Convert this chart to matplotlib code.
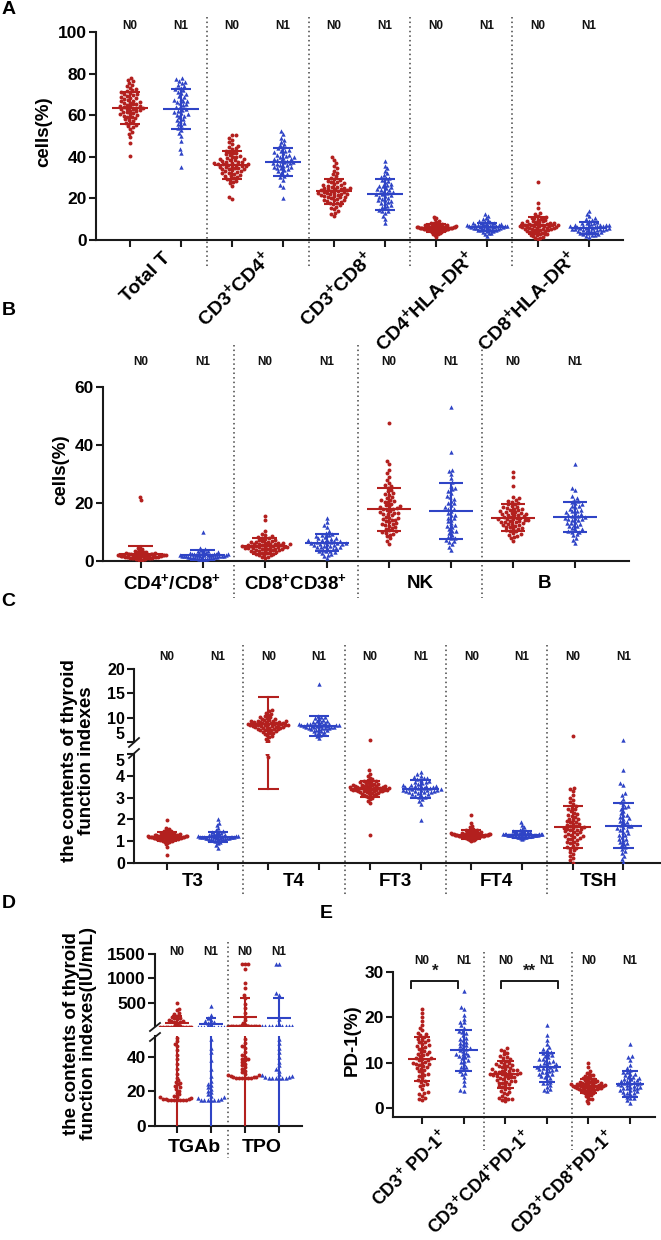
import numpy as np
import matplotlib
matplotlib.use("Agg")
import matplotlib.pyplot as plt
from matplotlib import transforms

plt.rcParams['font.family'] = ['Liberation Sans', 'DejaVu Sans']
plt.rcParams['font.weight'] = 'bold'
plt.rcParams['mathtext.fontset'] = 'custom'
plt.rcParams['mathtext.rm'] = 'Liberation Sans:bold'
plt.rcParams['mathtext.it'] = 'Liberation Sans:bold'
plt.rcParams['mathtext.bf'] = 'Liberation Sans:bold'
plt.rcParams['mathtext.default'] = 'rm'

# ---------------- DATA ----------------
group_names = ['N0', 'N1']

# Panel A
cat_A = ['Total T', 'CD3$^{+}$CD4$^{+}$', 'CD3$^{+}$CD8$^{+}$', 'CD4$^{+}$HLA-DR$^{+}$', 'CD8$^{+}$HLA-DR$^{+}$']
tt0 = [40.5,46.8,49.6,51.2,52.0,53.4,54.1,54.9,55.3,56.2,56.4,57.1,57.8,58.0,58.5,58.9,59.3,59.8,60.1,60.4,60.6,61.0,61.3,61.7,61.9,62.2,62.5,62.8,63.0,63.1,63.4,63.7,63.9,64.2,64.4,64.6,64.9,65.2,65.5,65.8,66.1,66.3,66.7,67.0,67.4,67.8,68.1,68.5,68.9,69.3,69.6,70.0,70.2,70.7,71.1,71.5,72.0,72.6,73.3,74.0,74.6,75.4,76.3,77.0,78.1]
tt1 = [35.2,42.0,43.6,47.8,50.1,51.5,52.9,54.0,55.2,55.8,56.4,57.0,57.6,58.3,59.1,59.8,60.5,61.0,61.4,62.0,62.6,63.2,63.8,64.1,64.7,65.3,65.9,66.4,67.0,67.5,68.0,68.8,69.4,70.1,70.6,71.2,72.0,72.4,73.1,73.8,74.5,75.3,76.0,76.6,77.2,77.9,60.2,66.8]
cd4_0 = [19.8,20.9,26.0,27.3,28.4,29.0,29.8,30.3,30.9,31.4,31.8,32.3,32.7,33.1,33.5,33.9,34.2,34.5,34.8,35.1,35.4,35.7,36.0,36.2,36.5,36.8,37.1,37.4,37.7,38.0,38.3,38.6,39.0,39.4,39.8,40.2,40.7,41.2,41.8,42.4,43.0,43.7,44.5,45.3,46.2,47.1,48.0,49.2,50.3,50.6,33.0,35.0,36.3,37.5,34.0,38.8,31.0,29.5,40.0,42.0,44.0,36.6,35.3,32.0,27.8]
cd4_1 = [20.1,25.3,26.4,29.0,30.2,31.0,31.7,32.4,33.0,33.6,34.1,34.7,35.2,35.6,36.0,36.5,36.9,37.3,37.7,38.1,38.5,38.9,39.3,39.7,40.1,40.6,41.1,41.6,42.2,42.8,43.4,44.0,44.7,45.5,46.3,47.2,48.1,49.0,51.2,52.6,37.0,38.0,35.0,39.0,41.0,34.4,43.0,36.2]
cd8_0 = [11.3,12.4,13.1,14.0,14.8,15.5,16.1,16.6,17.2,17.7,18.2,18.6,19.0,19.4,19.8,20.2,20.5,20.9,21.2,21.5,21.9,22.2,22.5,22.8,23.1,23.4,23.7,24.0,24.3,24.6,24.9,25.2,25.6,26.0,26.4,26.8,27.2,27.7,28.2,28.7,29.3,30.0,30.7,31.5,32.4,33.4,34.5,35.5,36.8,38.4,39.7,22.0,23.0,24.5,21.0,25.5,19.2,20.7,23.9,26.5,18.0,27.9,22.6,24.8,21.7]
cd8_1 = [8.4,10.3,11.7,12.9,13.8,14.5,15.2,15.9,16.5,17.0,17.6,18.2,18.8,19.3,19.9,20.4,20.9,21.4,21.9,22.4,22.9,23.4,23.9,24.4,24.9,25.4,25.9,26.5,27.1,27.7,28.3,29.0,29.7,30.5,31.3,32.2,33.3,34.4,35.6,37.9,14.0,22.1,26.0,19.0,30.0,24.0,17.9,21.1]
hla4_0 = [1.6,2.3,2.8,3.1,3.4,3.7,3.9,4.1,4.3,4.5,4.6,4.8,4.9,5.0,5.1,5.2,5.3,5.4,5.5,5.6,5.7,5.8,5.9,6.0,6.1,6.2,6.3,6.4,6.5,6.6,6.7,6.8,6.9,7.0,7.2,7.4,7.6,7.8,8.1,8.4,8.8,9.3,9.9,10.6,11.2,5.25,5.45,5.65,5.85,6.05,6.25,4.45,4.7,6.45,6.85,7.1,3.5,7.5,5.75,5.35,6.15,4.95,6.55,5.55,3.05]
hla4_1 = [2.1,2.9,3.4,3.8,4.1,4.4,4.6,4.9,5.1,5.3,5.5,5.7,5.9,6.0,6.2,6.3,6.5,6.6,6.8,6.9,7.1,7.2,7.4,7.6,7.8,8.0,8.2,8.5,8.8,9.1,9.5,10.0,10.8,11.6,12.4,5.6,6.1,6.7,7.0,5.0,7.3,4.8,6.4,5.8,7.7,3.6,8.3,6.9]
hla8_0 = [0.5,1.0,1.5,2.0,2.4,2.8,3.1,3.4,3.7,4.0,4.2,4.5,4.7,5.0,5.2,5.4,5.6,5.8,6.0,6.2,6.4,6.6,6.8,7.0,7.2,7.4,7.6,7.8,8.0,8.3,8.6,8.9,9.2,9.5,9.8,10.1,10.4,10.8,11.2,11.7,12.3,13.0,15.2,17.8,28.0,5.5,6.5,7.3,4.4,8.1,3.0,9.0,6.1,5.1,7.9,2.2,10.6,6.7,4.9,1.2,3.6,7.1,8.8,5.9,6.9]
hla8_1 = [1.5,2.0,2.4,2.8,3.1,3.4,3.7,4.0,4.2,4.5,4.7,4.9,5.1,5.3,5.5,5.7,5.9,6.1,6.3,6.5,6.7,6.9,7.1,7.4,7.7,8.0,8.4,8.8,9.3,9.9,10.6,11.3,12.5,13.8,5.0,6.0,6.6,4.4,7.2,3.2,5.6,6.8,2.6,8.2,4.8,5.2,7.0,9.6]
mean_A = [63.5, 63.0, 36.0, 37.5, 23.5, 22.0, 5.8, 6.3, 7.0, 5.8]
sd_A = [7.5, 9.6, 6.8, 6.7, 6.0, 7.5, 1.9, 2.0, 4.0, 2.8]

# Panel B
cat_B = ['CD4$^{+}$/CD8$^{+}$', 'CD8$^{+}$CD38$^{+}$', 'NK', 'B']
r48_0 = [0.2,0.4,0.5,0.6,0.7,0.8,0.9,1.0,1.0,1.1,1.2,1.2,1.3,1.4,1.4,1.5,1.5,1.6,1.6,1.7,1.7,1.8,1.8,1.9,1.9,2.0,2.0,2.1,2.1,2.2,2.2,2.3,2.3,2.4,2.4,2.5,2.5,2.6,2.7,2.8,2.9,3.0,3.1,3.2,3.4,3.6,3.8,4.1,4.5,21.0,21.9,1.25,1.55,1.65,1.95,2.15,0.95,1.05,2.35,1.35,1.75,2.05,0.65,1.85,2.65]
r48_1 = [0.3,0.5,0.7,0.8,0.9,1.0,1.1,1.2,1.3,1.4,1.4,1.5,1.6,1.6,1.7,1.8,1.8,1.9,2.0,2.0,2.1,2.2,2.2,2.3,2.4,2.5,2.6,2.7,2.8,2.9,3.0,3.2,3.4,3.6,3.9,4.3,4.6,10.1,1.25,1.55,1.75,1.95,2.15,2.35,1.05,0.85,2.45,1.65]
cd38_0 = [1.0,1.5,1.9,2.2,2.5,2.7,2.9,3.1,3.3,3.5,3.6,3.8,3.9,4.1,4.2,4.4,4.5,4.6,4.8,4.9,5.0,5.1,5.2,5.4,5.5,5.6,5.8,5.9,6.1,6.3,6.5,6.7,6.9,7.2,7.5,7.8,8.1,8.5,8.9,9.4,10.3,14.0,15.5,4.3,4.7,5.3,3.7,5.7,6.0,4.0,3.4,6.6,2.4,7.0,4.85,5.15,5.45,3.0,7.4,8.3,2.05,6.2,1.3,5.95,4.55]
cd38_1 = [1.0,1.6,2.2,2.7,3.0,3.3,3.6,3.9,4.2,4.5,4.8,5.0,5.3,5.5,5.8,6.0,6.2,6.4,6.7,6.9,7.1,7.4,7.7,8.0,8.3,8.6,8.9,9.3,9.7,10.4,11.6,12.3,13.5,15.0,5.1,5.9,6.6,7.0,4.4,7.9,3.4,6.3,9.0,2.5,5.6,6.1,4.9,7.3]
nk_0 = [6.0,7.0,7.8,8.5,9.1,9.7,10.2,10.7,11.1,11.6,12.0,12.4,12.9,13.3,13.7,14.1,14.5,14.9,15.3,15.7,16.1,16.5,16.9,17.3,17.7,18.1,18.5,18.9,19.3,19.8,20.2,20.7,21.2,21.7,22.2,22.8,23.4,24.0,24.6,25.3,26.1,27.0,28.0,29.1,30.2,31.5,33.5,34.6,47.5,12.6,15.0,16.7,17.9,19.0,13.0,21.0,10.0,23.0,14.3,18.3,11.4,16.2,25.9,9.4,20.5]
nk_1 = [3.8,4.9,5.8,6.5,7.2,7.8,8.4,9.0,9.7,10.3,11.0,11.6,12.3,13.0,13.7,14.3,15.0,15.7,16.4,17.1,17.8,18.5,19.2,19.9,20.7,21.5,22.4,23.3,24.2,25.0,26.0,27.2,28.5,30.0,31.0,31.5,37.5,53.0,6.8,8.0,12.0,14.8,16.0,18.0,20.0,22.0,10.5,24.8]
b_0 = [7.0,7.9,8.6,9.2,9.7,10.2,10.6,11.0,11.4,11.8,12.1,12.4,12.7,13.0,13.3,13.6,13.9,14.2,14.5,14.8,15.1,15.4,15.7,16.0,16.3,16.6,16.9,17.2,17.5,17.9,18.3,18.7,19.1,19.5,20.0,20.5,21.0,21.6,22.2,25.7,29.0,30.8,12.5,14.0,15.0,16.5,13.5,17.0,11.2,18.0,14.6,10.4,15.9,19.8,12.9,16.2,8.2,13.8,17.7,15.3,20.8,9.0,14.4,11.7,18.5]
b_1 = [6.1,7.2,8.0,8.8,9.4,9.9,10.4,10.9,11.4,11.9,12.4,12.8,13.2,13.6,14.0,14.4,14.8,15.2,15.6,16.0,16.4,16.8,17.2,17.6,18.0,18.5,19.0,19.5,20.0,20.6,21.2,21.8,22.3,24.5,25.2,33.5,12.0,14.2,15.0,16.2,13.0,17.4,10.1,18.8,15.4,11.1,14.6,20.3]
mean_B = [2.3, 2.0, 5.1, 6.3, 17.8, 17.3, 15.0, 15.2]
sd_B = [3.0, 1.8, 2.8, 3.0, 7.5, 9.6, 4.7, 5.1]

# Panel C
cat_C = ['T3', 'T4', 'FT3', 'FT4', 'TSH']
t3_0 = [0.38,0.75,0.85,0.92,0.96,0.99,1.01,1.03,1.05,1.07,1.08,1.09,1.10,1.11,1.12,1.13,1.14,1.15,1.16,1.17,1.18,1.19,1.20,1.21,1.22,1.23,1.24,1.25,1.26,1.27,1.28,1.29,1.30,1.31,1.33,1.35,1.37,1.39,1.41,1.44,1.47,1.51,1.56,1.62,1.95,1.15,1.18,1.22,1.25,1.12,1.28,1.06,1.32,1.20,1.10,1.24,1.17,1.35,1.02,1.40,1.21,1.13,1.27,0.95,1.45]
t3_1 = [0.70,0.82,0.90,0.96,1.00,1.03,1.06,1.08,1.10,1.12,1.13,1.14,1.15,1.16,1.17,1.18,1.19,1.20,1.21,1.22,1.23,1.24,1.26,1.28,1.30,1.32,1.35,1.38,1.42,1.46,1.52,1.60,1.75,1.85,2.00,1.18,1.21,1.15,1.24,1.11,1.27,1.09,1.33,1.19,1.22,1.05,1.40,1.16]
t4_0 = [4.85,4.98,5.3,5.7,6.0,6.3,6.5,6.7,6.9,7.1,7.3,7.4,7.6,7.7,7.8,7.9,8.0,8.1,8.2,8.3,8.4,8.5,8.6,8.7,8.8,8.9,9.0,9.1,9.2,9.3,9.4,9.5,9.6,9.8,10.0,10.2,10.4,10.6,10.8,11.0,11.3,11.6,8.15,8.35,8.55,8.75,8.05,8.95,7.75,9.15,8.45,7.55,9.35,8.25,8.65,7.95,9.05,8.85,6.8,9.7,7.2,10.1,8.5,9.25,7.45]
t4_1 = [5.8,6.2,6.5,6.7,6.9,7.1,7.3,7.4,7.5,7.7,7.8,7.9,8.0,8.1,8.2,8.3,8.4,8.5,8.6,8.7,8.8,8.9,9.0,9.2,9.4,9.6,9.8,10.0,10.2,10.4,17.0,8.05,8.15,8.25,8.35,8.45,7.95,8.55,7.65,8.75,9.1,7.2,8.65,9.3,7.85,10.1,8.35,6.6]
ft3_0 = [1.3,2.75,2.85,2.92,2.98,3.03,3.07,3.11,3.14,3.17,3.20,3.23,3.26,3.28,3.30,3.32,3.34,3.36,3.38,3.40,3.42,3.44,3.46,3.48,3.50,3.52,3.54,3.56,3.58,3.61,3.64,3.67,3.70,3.73,3.77,3.81,3.86,3.92,4.0,4.1,4.25,5.4,3.35,3.45,3.39,3.41,3.31,3.49,3.27,3.55,3.37,3.43,3.22,3.60,3.33,3.47,3.18,3.65,3.29,3.51,3.10,3.75,3.44,3.36,3.53]
ft3_1 = [1.98,2.7,2.85,2.95,3.02,3.08,3.13,3.17,3.21,3.25,3.28,3.31,3.34,3.37,3.40,3.43,3.46,3.49,3.52,3.55,3.58,3.62,3.66,3.70,3.75,3.80,3.85,3.90,3.95,4.0,4.08,4.18,3.36,3.42,3.30,3.48,3.24,3.54,3.39,3.33,3.45,3.15,3.60,3.27,3.88,3.05,3.51,3.72]
ft4_0 = [1.00,1.04,1.07,1.10,1.12,1.14,1.16,1.18,1.19,1.20,1.21,1.22,1.23,1.24,1.25,1.26,1.27,1.28,1.29,1.30,1.31,1.32,1.33,1.34,1.35,1.36,1.37,1.38,1.40,1.42,1.44,1.46,1.49,1.52,1.56,1.60,1.65,1.72,1.85,2.2,1.25,1.28,1.31,1.22,1.34,1.19,1.37,1.26,1.29,1.33,1.15,1.41,1.24,1.30,1.11,1.45,1.27,1.32,1.21,1.36,1.06,1.50,1.23,1.35,1.28]
ft4_1 = [1.10,1.14,1.17,1.19,1.21,1.22,1.23,1.24,1.25,1.26,1.27,1.28,1.29,1.30,1.31,1.32,1.33,1.34,1.35,1.36,1.37,1.38,1.40,1.42,1.44,1.46,1.49,1.53,1.58,1.65,1.75,1.88,1.28,1.31,1.26,1.33,1.24,1.35,1.29,1.32,1.20,1.38,1.27,1.30,1.41,1.16,1.34,1.23]
tsh_0 = [0.02,0.12,0.22,0.32,0.42,0.5,0.58,0.66,0.74,0.8,0.86,0.92,0.98,1.04,1.1,1.15,1.2,1.25,1.3,1.35,1.4,1.45,1.5,1.55,1.6,1.65,1.7,1.75,1.8,1.86,1.92,1.98,2.04,2.1,2.17,2.24,2.31,2.38,2.46,2.54,2.62,2.7,2.8,2.9,3.0,3.1,3.3,3.4,3.45,6.2,1.62,1.68,1.32,1.78,1.22,1.88,1.12,2.0,1.42,1.52,0.95,2.2,1.58,0.7,2.5]
tsh_1 = [0.05,0.2,0.32,0.45,0.55,0.65,0.72,0.8,0.88,0.96,1.04,1.12,1.2,1.28,1.36,1.44,1.52,1.6,1.68,1.76,1.84,1.92,2.0,2.1,2.2,2.3,2.4,2.5,2.6,2.7,2.8,2.95,3.1,3.2,3.6,3.65,4.25,5.5,1.7,1.5,1.9,1.3,2.2,1.1,2.55,0.9,1.65,2.05]
mean_C = [1.2, 1.2, 8.8, 8.3, 3.4, 3.38, 1.3, 1.3, 1.65, 1.72]
sd_C = [0.2, 0.24, 5.4, 2.0, 0.38, 0.42, 0.2, 0.15, 0.95, 1.03]

# Panel D
cat_D = ['TGAb', 'TPO']
tgab_0 = [15.0,15.0,15.0,15.0,15.0,15.0,15.2,15.4,15.6,15.8,16.2,16.6,17.0,17.6,18.3,19.2,20.5,21.5,22.4,23.2,24.0,24.8,25.6,26.4,28.0,30.0,33.0,36.0,38.5,41.0,44.0,46.5,47.5,49.0,51.0,
          95,105,115,125,140,155,170,185,200,220,240,270,300,350,380,500]
tgab_1 = [15.0,15.0,15.0,15.0,15.0,15.3,15.6,16.0,16.6,17.4,18.5,19.5,20.5,21.5,22.5,23.5,24.5,26.0,29.0,33.0,38.0,43.0,45.0,50.0,
          80,95,110,130,160,200,250,430]
tpo_0 = [28.0,28.0,28.0,28.0,28.0,28.0,28.2,28.4,28.6,28.8,29.2,29.6,30.0,31.0,32.0,33.0,34.0,35.0,36.0,37.0,38.0,38.5,39.0,40.0,41.0,43.0,45.0,46.0,48.0,50.0,
         60,100,150,220,290,400,480,600,660,800,900,1200,1300,1300,1300]
tpo_1 = [28.0,28.0,28.0,28.0,28.0,28.0,28.3,28.6,29.0,29.5,30.0,32.0,33.0,35.0,37.0,40.0,43.0,45.0,48.0,50.0,
         80,180,660,700,1300,1300]
mean_D = [92, 75, 214, 195]
sd_D = [140, 110, 390, 400]

# Panel E
cat_E = ['CD3$^{+}$ PD-1$^{+}$', 'CD3$^{+}$CD4$^{+}$PD-1$^{+}$', 'CD3$^{+}$CD8$^{+}$PD-1$^{+}$']
pd1_0 = [1.8,2.2,2.6,3.0,3.5,4.2,4.8,5.3,5.8,6.2,6.6,7.0,7.4,7.8,8.1,8.4,8.7,9.0,9.3,9.6,9.9,10.2,10.5,10.8,11.1,11.4,11.7,12.0,12.3,12.6,12.9,13.2,13.5,13.8,14.1,14.5,14.9,15.3,15.7,16.1,16.6,17.1,17.7,18.4,19.2,20.0,21.0,21.8,10.0,11.0,12.4,9.4,13.6,8.8,14.6,7.2,10.6,6.0,11.8,15.0,5.1,3.2,2.0,16.3,9.7]
pd1_1 = [3.7,4.0,5.0,6.0,6.8,7.5,8.1,8.6,9.1,9.6,10.1,10.6,11.0,11.4,11.8,12.2,12.6,13.0,13.4,13.8,14.2,14.6,15.0,15.5,16.0,16.5,17.0,17.6,18.2,18.9,19.7,20.6,21.8,22.2,25.8,12.0,13.2,11.2,14.4,10.4,15.2,9.0,12.8,16.8,7.8,13.6,11.6,19.0]
cd4pd1_0 = [1.5,1.8,2.0,2.3,2.6,3.0,3.4,3.8,4.2,4.6,5.0,5.3,5.6,5.9,6.2,6.5,6.8,7.0,7.2,7.4,7.6,7.8,8.0,8.2,8.4,8.6,8.8,9.0,9.2,9.5,9.8,10.1,10.4,10.7,11.0,11.4,11.8,12.2,12.6,13.2,7.1,7.3,7.5,6.9,7.7,6.6,8.1,6.3,8.5,5.8,9.3,5.5,7.9,4.8,10.0,2.1,1.9,8.3,6.0,12.8,3.6,9.7,7.45,11.2,4.4]
cd4pd1_1 = [3.7,4.2,4.6,5.0,5.4,5.8,6.2,6.6,7.0,7.3,7.6,7.9,8.2,8.5,8.8,9.1,9.4,9.7,10.0,10.3,10.6,10.9,11.2,11.6,12.0,12.4,12.8,13.4,14.2,15.0,16.2,18.3,8.9,9.2,8.6,9.6,8.0,10.2,7.4,11.5,6.9,12.2,9.0,5.6,10.8,8.4,13.0,4.0]
cd8pd1_0 = [1.2,1.6,2.0,2.3,2.6,2.9,3.1,3.3,3.5,3.7,3.8,4.0,4.1,4.2,4.3,4.4,4.5,4.6,4.7,4.8,4.9,5.0,5.1,5.2,5.3,5.4,5.5,5.6,5.7,5.8,5.9,6.0,6.2,6.4,6.6,6.8,7.0,7.2,7.5,7.8,8.2,9.1,10.0,4.65,4.85,4.95,5.05,4.55,5.25,4.35,5.45,4.05,5.65,3.9,6.1,3.4,6.5,4.75,5.15,2.8,7.3,4.25,5.35,1.9,4.45]
cd8pd1_1 = [1.2,1.7,2.1,2.5,2.8,3.1,3.4,3.7,3.9,4.1,4.3,4.5,4.7,4.9,5.1,5.3,5.5,5.7,5.9,6.1,6.3,6.6,6.9,7.2,7.5,7.9,8.3,8.8,9.5,10.5,11.2,11.5,14.2,5.0,5.4,5.2,4.6,6.0,4.0,6.8,3.3,7.6,5.6,2.3,8.0,4.4,6.4,3.6]
mean_E = [10.8, 12.7, 7.4, 9.0, 4.8, 5.3]
sd_E = [4.9, 4.6, 3.0, 3.2, 1.6, 2.8]
sig_pairs = [(0, '*'), (1, '**')]

# ---------------- STYLE ----------------
W, H = 661, 1240
RED = '#B3201E'
BLUE = '#2F44C6'
AXC = '#1a1a1a'
colors = [RED, BLUE]
markers = ['o', '^']

fig = plt.figure(figsize=(W / 100, H / 100), dpi=100)


def add_ax(x0, x1, yt, yb):
    return fig.add_axes([x0 / W, 1 - yb / H, (x1 - x0) / W, (yb - yt) / H])


def style(ax, size, bottom=True):
    for s in ['top', 'right']:
        ax.spines[s].set_visible(False)
    ax.spines['left'].set_linewidth(1.5)
    ax.spines['left'].set_color(AXC)
    ax.spines['bottom'].set_linewidth(1.5)
    ax.spines['bottom'].set_color(AXC)
    ax.tick_params(axis='both', direction='out', length=5, width=1.5,
                   labelsize=size, color=AXC, pad=1.5)
    if not bottom:
        ax.spines['bottom'].set_visible(False)
        ax.tick_params(axis='x', bottom=False, labelbottom=False)
    for lab in ax.get_yticklabels():
        lab.set_fontweight('bold')


def fy(px):
    return 1 - px / H


def swarm_offsets(ypix, d):
    n = len(ypix)
    xs = np.zeros(n)
    order = np.argsort(ypix, kind='stable')
    px_list, py_list = [], []
    for i in order:
        y = ypix[i]
        neigh = [(px, py) for px, py in zip(px_list, py_list) if abs(py - y) < d]
        cands = [0.0]
        for px, py in neigh:
            dx = np.sqrt(max(d * d - (py - y) ** 2, 0.0))
            cands += [px + dx + 1e-6, px - dx - 1e-6]
        cands.sort(key=lambda c: (abs(c), c))
        chosen = 0.0
        for c in cands:
            if all((c - px) ** 2 + (y - py) ** 2 >= d * d - 1e-3 for px, py in neigh):
                chosen = c
                break
        xs[i] = chosen
        px_list.append(chosen)
        py_list.append(y)
    return xs


def draw_groups(axes, pick, datas, means, sds, d=3.6, mhalf=0.36, chalf=0.2,
                s=(8, 10), lim=0.4):
    ref = axes[0]
    pxu = ref.transData.transform((1, 0))[0] - ref.transData.transform((0, 0))[0]
    for i, vals in enumerate(datas):
        vals = np.asarray(vals, float)
        g = i % 2
        ypix = np.array([pick(v).transData.transform((0, v))[1] for v in vals])
        off = swarm_offsets(ypix, d) / pxu
        mx = np.max(np.abs(off))
        if mx > lim:
            off = off * lim / mx
        m, sd = means[i], sds[i]
        for ax in axes:
            ax.scatter(i + off, vals, s=s[g], marker=markers[g], c=colors[g],
                       linewidths=0, zorder=3)
            ax.plot([i - mhalf, i + mhalf], [m, m], color=colors[g], lw=1.5, zorder=4,
                    solid_capstyle='butt')
            ax.plot([i, i], [m - sd, m + sd], color=colors[g], lw=1.5, zorder=4)
            ax.plot([i - chalf, i + chalf], [m + sd, m + sd], color=colors[g], lw=1.5, zorder=4,
                    solid_capstyle='butt')
            ax.plot([i - chalf, i + chalf], [m - sd, m - sd], color=colors[g], lw=1.5, zorder=4,
                    solid_capstyle='butt')


def group_labels(ax, n, ypx, size=8.5):
    tr = transforms.blended_transform_factory(ax.transData, fig.transFigure)
    for i in range(n):
        ax.text(i, fy(ypx), group_names[i % 2], transform=tr, ha='center', va='center',
                fontsize=size, fontweight='bold', color='#111111')


def dividers(ax, xs, y0, y1):
    tr = transforms.blended_transform_factory(ax.transData, fig.transFigure)
    for x in xs:
        ax.plot([x, x], [fy(y0), fy(y1)], transform=tr, clip_on=False,
                color='#444444', lw=1.1, ls=(0, (1, 2)))


def break_marks(segs):
    for (x0, y0, x1, y1) in segs:
        fig.add_artist(plt.Line2D([x0 / W, x1 / W], [fy(y0), fy(y1)], color=AXC, lw=1.3))


# ---------------- PANEL A ----------------
axA = add_ax(96, 623, 32, 240)
axA.set_xlim(-0.667, 9.667)
axA.set_ylim(0, 100)
axA.set_yticks([0, 20, 40, 60, 80, 100])
axA.set_xticks(range(10))
axA.set_xticklabels([])
style(axA, 12.5)
dataA = [tt0, tt1, cd4_0, cd4_1, cd8_0, cd8_1, hla4_0, hla4_1, hla8_0, hla8_1]
draw_groups([axA], lambda v: axA, dataA, mean_A, sd_A)
group_labels(axA, 10, 26)
dividers(axA, [1.5, 3.5, 5.5, 7.5], 17, 267)
trA = transforms.blended_transform_factory(axA.transData, fig.transFigure)
for k, lab in enumerate(cat_A):
    axA.text(2 * k + 0.5 + 0.3, fy(259), lab, transform=trA, rotation=45, ha='right',
             va='baseline', rotation_mode='anchor', fontsize=14, fontweight='bold')
fig.text(44 / W, fy(132), 'cells(%)', rotation=90, ha='center', va='center',
         fontsize=13.5, fontweight='bold')

# ---------------- PANEL B ----------------
axB = add_ax(103, 629, 387, 561)
axB.set_xlim(-0.61, 7.87)
axB.set_ylim(0, 60)
axB.set_yticks([0, 20, 40, 60])
axB.set_xticks(range(8))
axB.set_xticklabels([])
style(axB, 12.5)
dataB = [r48_0, r48_1, cd38_0, cd38_1, nk_0, nk_1, b_0, b_1]
draw_groups([axB], lambda v: axB, dataB, mean_B, sd_B)
group_labels(axB, 8, 362)
dividers(axB, [1.5, 3.5, 5.5], 345, 598)
trB = transforms.blended_transform_factory(axB.transData, fig.transFigure)
for k, lab in enumerate(cat_B):
    axB.text(2 * k + 0.5, fy(583), lab, transform=trB, ha='center', va='center',
             fontsize=13.5, fontweight='bold')
fig.text(61 / W, fy(470), 'cells(%)', rotation=90, ha='center', va='center',
         fontsize=13.5, fontweight='bold')

# ---------------- PANEL C (broken axis) ----------------
axCu = add_ax(134, 660, 669, 742)
axCl = add_ax(134, 660, 754, 863)
for ax in (axCu, axCl):
    ax.set_xlim(-0.65, 9.72)
axCu.set_ylim(5, 20)
axCu.set_yticks([5, 10, 15, 20])
axCl.set_ylim(0, 5)
axCl.set_yticks([0, 1, 2, 3, 4, 5])
axCl.set_xticks(range(10))
axCl.set_xticklabels([])
style(axCu, 11.5, bottom=False)
style(axCl, 11.5)
# keep the two "5" labels at the break from running into each other
axCu.get_yticklabels()[0].set_verticalalignment('bottom')
axCl.get_yticklabels()[-1].set_verticalalignment('top')
dataC = [t3_0, t3_1, t4_0, t4_1, ft3_0, ft3_1, ft4_0, ft4_1, tsh_0, tsh_1]
draw_groups([axCu, axCl], lambda v: axCu if v > 5 else axCl, dataC, mean_C, sd_C)
group_labels(axCl, 10, 657)
dividers(axCl, [1.5, 3.5, 5.5, 7.5], 645, 895)
trC = transforms.blended_transform_factory(axCl.transData, fig.transFigure)
for k, lab in enumerate(cat_C):
    axCl.text(2 * k + 0.5, fy(882), lab, transform=trC, ha='center', va='center',
              fontsize=13.5, fontweight='bold')
break_marks([(129, 747, 139, 738), (129, 758, 139, 749)])
fig.text(78 / W, fy(761), 'the contents of thyroid\nfunction indexes', rotation=90,
         ha='center', va='center', fontsize=13.5, fontweight='bold', linespacing=1.0)

# ---------------- PANEL D (broken axis) ----------------
axDu = add_ax(155, 302, 954, 1026)
axDl = add_ax(155, 302, 1036, 1126)
for ax in (axDu, axDl):
    ax.set_xlim(-0.65, 3.68)
axDu.set_ylim(30, 1500)
axDu.set_yticks([500, 1000, 1500])
axDl.set_ylim(0, 52)
axDl.set_yticks([0, 20, 40])
axDl.set_xticks(range(4))
axDl.set_xticklabels([])
style(axDu, 12.5, bottom=False)
style(axDl, 12.5)
dataD = [tgab_0, tgab_1, tpo_0, tpo_1]
draw_groups([axDu, axDl], lambda v: axDu if v > 52 else axDl, dataD, mean_D, sd_D,
            d=3.4, mhalf=0.36, chalf=0.16, lim=0.5)
group_labels(axDl, 4, 952)
dividers(axDl, [1.5], 942, 1158)
trD = transforms.blended_transform_factory(axDl.transData, fig.transFigure)
for k, lab in enumerate(cat_D):
    axDl.text(2 * k + 0.5, fy(1147), lab, transform=trD, ha='center', va='center',
              fontsize=14, fontweight='bold')
break_marks([(150, 1031, 160, 1023), (150, 1041, 160, 1033)])
fig.text(80 / W, fy(1034), 'the contents of thyroid\nfunction indexes(IU/mL)', rotation=90,
         ha='center', va='center', fontsize=13.5, fontweight='bold', linespacing=1.0)

# ---------------- PANEL E ----------------
axE = add_ax(393, 655, 972, 1117)
axE.set_xlim(-0.7, 5.6)
axE.set_ylim(-2, 30)
axE.set_yticks([0, 10, 20, 30])
axE.set_xticks(range(6))
axE.set_xticklabels([])
style(axE, 12.5)
dataE = [pd1_0, pd1_1, cd4pd1_0, cd4pd1_1, cd8pd1_0, cd8pd1_1]
draw_groups([axE], lambda v: axE, dataE, mean_E, sd_E, mhalf=0.34, chalf=0.2, lim=0.42)
group_labels(axE, 6, 961)
dividers(axE, [1.5, 3.6], 952, 1150)
trE = transforms.blended_transform_factory(axE.transData, fig.transFigure)
for k, lab in enumerate(cat_E):
    axE.text(2 * k + 0.5 + 0.15, fy(1137), lab, transform=trE, rotation=45, ha='right',
             va='baseline', rotation_mode='anchor', fontsize=13, fontweight='bold')
br = {0: (-0.26, 0.87), 1: (1.9, 3.27)}
for k, star in sig_pairs:
    x0, x1 = br[k]
    axE.plot([x0, x0, x1, x1], [26.5, 28.0, 28.0, 26.5], color=AXC, lw=1.4, clip_on=False)
    axE.text((x0 + x1) / 2, 28.6, star, ha='center', va='bottom', fontsize=12,
             fontweight='bold', color=AXC)
fig.text(352 / W, fy(1040), 'PD-1(%)', rotation=90, ha='center', va='center',
         fontsize=13.5, fontweight='bold')

# ---------------- panel letters ----------------
for lab, x, y in [('A', 9, 10), ('B', 9, 311), ('C', 8, 602), ('D', 9, 904), ('E', 326, 913)]:
    fig.text(x / W, fy(y), lab, ha='center', va='center', fontsize=14, fontweight='bold')

fig.savefig('out.png', dpi=100)
